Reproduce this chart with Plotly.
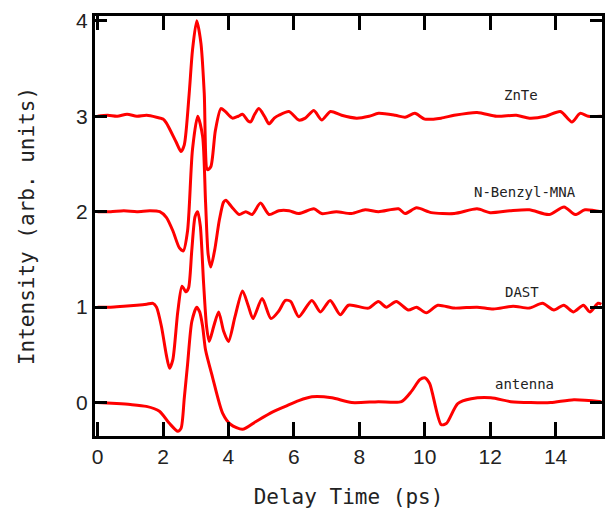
import plotly.graph_objects as go

# THz waveforms (delay time in ps, intensity offset by sample)
znte_t = [0, 0.3, 0.6, 0.9, 1.2, 1.5, 1.8, 2.0, 2.1, 2.4, 2.55, 2.65, 2.8, 2.9, 3.03, 3.16, 3.26,
          3.36, 3.46, 3.6, 3.77, 3.9, 4.12, 4.3, 4.43, 4.6, 4.68, 4.8, 4.93, 5.1, 5.24, 5.4, 5.54,
          5.85, 6.15, 6.35, 6.61, 6.85, 7.12, 7.46, 7.92, 8.3, 8.59, 9.1, 9.4, 9.7, 10.0, 10.5,
          10.9, 11.6, 12.2, 12.8, 13.2, 13.7, 14.15, 14.5, 14.75, 15.0, 15.4]
znte_v = [3.0, 3.01, 3.0, 3.02, 3.0, 3.01, 2.99, 2.97, 2.93, 2.73, 2.63, 2.7, 3.24, 3.69, 4.0, 3.76,
          3.24, 2.44, 2.47, 2.85, 3.08, 3.05, 2.98, 3.0, 3.02, 2.95, 2.94, 3.02, 3.08, 3.0, 2.92,
          2.98, 3.01, 3.05, 2.96, 2.98, 3.06, 2.96, 3.05, 3.01, 2.98, 3.0, 3.03, 3.01, 2.99, 3.03,
          2.97, 2.98, 3.01, 3.04, 3.0, 3.01, 2.98, 3.0, 3.05, 2.94, 3.03, 3.0, 3.0]

nbmna_t = [0, 0.4, 0.8, 1.2, 1.6, 1.9, 2.1, 2.3, 2.5, 2.62, 2.75, 2.9, 3.06, 3.21, 3.3, 3.38,
           3.46, 3.58, 3.72, 3.85, 3.92, 4.1, 4.33, 4.53, 4.72, 4.98, 5.24, 5.54, 5.85, 6.15,
           6.61, 6.85, 7.3, 7.76, 8.18, 8.59, 9.2, 9.4, 9.75, 10.2, 10.9, 11.6, 12.0, 12.6, 13.2,
           13.8, 14.26, 14.6, 14.9, 15.4]
nbmna_v = [2.0, 2.0, 2.01, 2.0, 2.01, 2.0, 1.94, 1.8, 1.62, 1.59, 1.8, 2.65, 3.0, 2.79, 2.1, 1.55,
           1.42, 1.6, 1.91, 2.1, 2.12, 2.05, 1.97, 2.0, 1.97, 2.09, 1.97, 2.01, 2.01, 1.98, 2.03,
           1.98, 2.0, 1.98, 2.02, 2.0, 2.03, 1.98, 2.04, 1.99, 1.98, 2.03, 1.99, 2.01, 2.02, 1.97,
           2.05, 1.97, 2.02, 2.0]

dast_t = [0, 0.4, 0.8, 1.2, 1.5, 1.69, 1.8, 1.95, 2.1, 2.2, 2.3, 2.45, 2.58, 2.7, 2.78, 2.88,
          2.98, 3.06, 3.14, 3.24, 3.33, 3.41, 3.55, 3.7, 3.85, 4.0, 4.2, 4.43, 4.6, 4.75, 5.03,
          5.3, 5.54, 5.74, 5.9, 6.15, 6.55, 6.81, 7.11, 7.42, 7.67, 8.28, 8.58, 8.83, 9.13, 9.5,
          9.75, 10.05, 10.4, 10.9, 11.6, 12.1, 12.7, 13.2, 13.6, 13.95, 14.25, 14.55, 14.85,
          15.05, 15.3, 15.4]
dast_v = [1.0, 1.0, 1.01, 1.02, 1.03, 1.04, 1.0, 0.8, 0.5, 0.36, 0.45, 0.95, 1.22, 1.16, 1.2, 1.6,
          1.95, 2.0, 1.85, 1.25, 0.8, 0.64, 0.8, 0.95, 0.75, 0.64, 0.9, 1.17, 1.02, 0.88, 1.09,
          0.88, 0.96, 1.07, 1.06, 0.9, 1.07, 0.95, 1.07, 0.92, 1.02, 0.99, 1.06, 1.0, 1.06, 0.97,
          1.0, 0.94, 1.02, 0.99, 1.0, 0.98, 1.01, 0.99, 1.04, 0.97, 1.02, 0.95, 1.02, 0.95, 1.04,
          1.03]

ant_t = [0, 0.58, 1.0, 1.49, 1.89, 2.2, 2.45, 2.55, 2.65, 2.75, 2.88, 3.03, 3.12, 3.21, 3.3,
         3.51, 3.82, 4.07, 4.43, 4.83, 5.34, 5.74, 6.15, 6.55, 7.16, 7.77, 8.58, 9.29, 9.6, 9.85,
         10.0, 10.15, 10.5, 10.66, 11.01, 11.42, 12.02, 12.63, 13.24, 13.85, 14.56, 15.4]
ant_v = [0.0, -0.01, -0.02, -0.04, -0.09, -0.22, -0.30, -0.27, 0.05, 0.4, 0.85, 1.0, 0.95, 0.8,
         0.55, 0.27, -0.11, -0.23, -0.28, -0.2, -0.1, -0.04, 0.02, 0.06, 0.05, 0.0, 0.01, 0.01,
         0.12, 0.24, 0.26, 0.2, -0.23, -0.22, -0.01, 0.04, 0.05, 0.01, 0.0, 0.0, 0.03, 0.01]

samples = [
    ("ZnTe", znte_t, znte_v, 12.93, 3.22),
    ("N-Benzyl-MNA", nbmna_t, nbmna_v, 13.08, 2.21),
    ("DAST", dast_t, dast_v, 12.96, 1.16),
    ("antenna", ant_t, ant_v, 13.05, 0.19),
]

fig = go.Figure()
for name, t, v, _, _ in samples:
    fig.add_trace(go.Scatter(
        x=t, y=v, mode="lines", name=name,
        line=dict(color="#ff0000", width=3, shape="spline", smoothing=0.7),
    ))

for name, _, _, lx, ly in samples:
    fig.add_annotation(
        x=lx, y=ly, text=name, showarrow=False,
        font=dict(family="DejaVu Sans Mono", size=14, color="#222222"),
    )

axis_common = dict(
    showline=True, linecolor="black", linewidth=3, mirror="ticks",
    ticks="inside", tickcolor="black", tickwidth=3,
    showgrid=False, zeroline=False,
    tickfont=dict(family="Liberation Sans, Arial", size=21, color="#222222"),
)

fig.update_xaxes(
    range=[-0.08, 15.42], tickmode="array", tickvals=[0, 2, 4, 6, 8, 10, 12, 14],
    ticklen=14,
    title=dict(text="Delay Time (ps)", standoff=23,
               font=dict(family="DejaVu Sans Mono", size=21, color="#222222")),
    **axis_common,
)
fig.update_yaxes(
    range=[-0.35, 4.05], tickmode="array", tickvals=[0, 1, 2, 3, 4],
    ticklen=12,
    title=dict(text="Intensity (arb. units)", standoff=36,
               font=dict(family="DejaVu Sans Mono", size=21, color="#222222")),
    **axis_common,
)

fig.update_layout(
    width=607, height=511,
    margin=dict(l=95, r=2, t=16, b=75),
    plot_bgcolor="white", paper_bgcolor="white",
    showlegend=False,
)

fig.write_html("out.html")
